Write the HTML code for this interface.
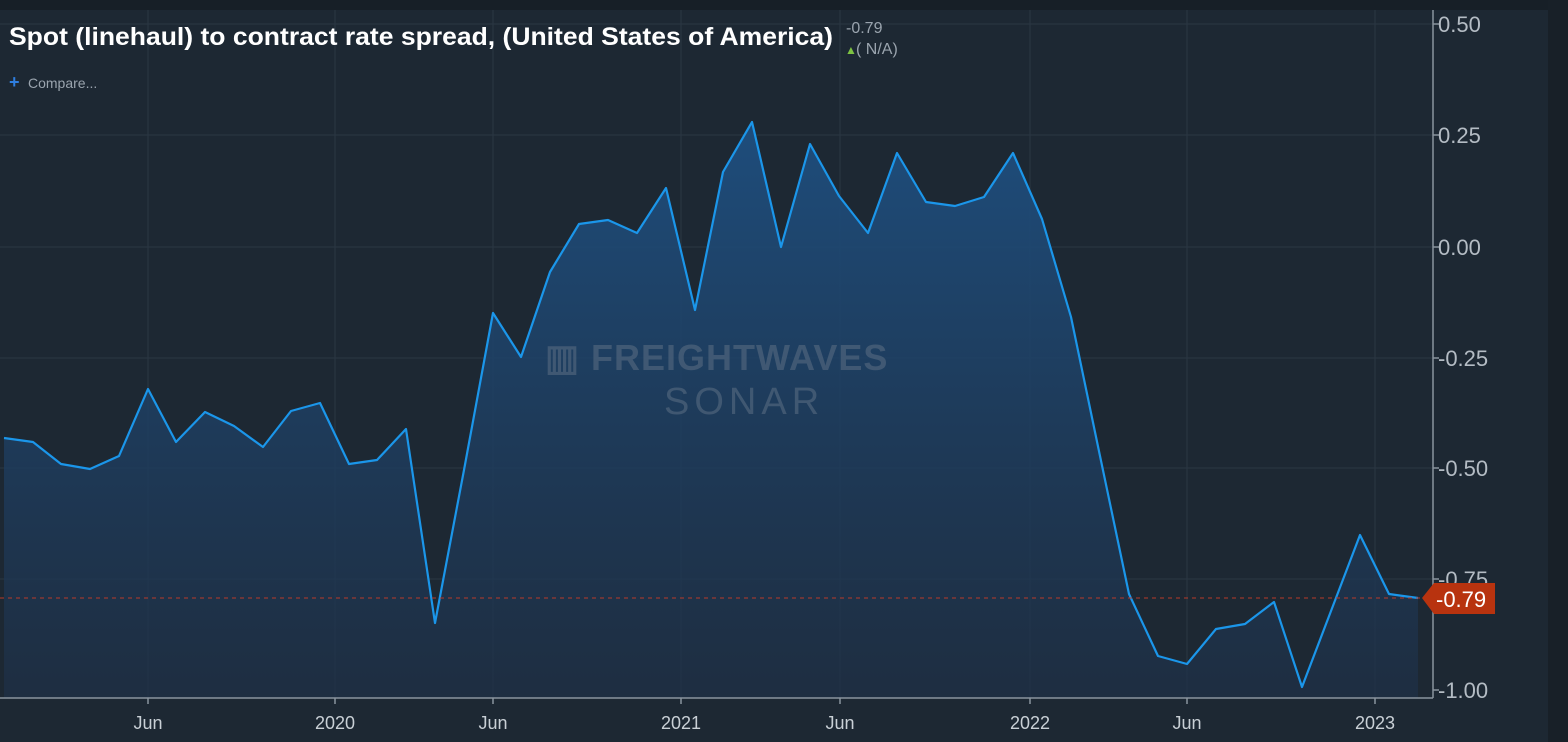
<!DOCTYPE html>
<html><head><meta charset="utf-8"><style>
html,body{margin:0;padding:0;background:#1d2833;}
body{width:1568px;height:742px;overflow:hidden;position:relative;font-family:"Liberation Sans",sans-serif;}
</style></head><body>
<svg width="1568" height="742" xmlns="http://www.w3.org/2000/svg" style="position:absolute;left:0;top:0">
<defs><linearGradient id="g" x1="0" y1="0" x2="0" y2="1">
<stop offset="0" stop-color="#1e4f80" stop-opacity="0.95"/>
<stop offset="1" stop-color="#1e3047" stop-opacity="0.7"/></linearGradient></defs>
<rect x="0" y="0" width="1568" height="742" fill="#1d2833"/>
<rect x="0" y="0" width="1568" height="10" fill="#171f27"/>
<rect x="1548" y="0" width="20" height="742" fill="#182028"/>
<g stroke="#2a3743" stroke-width="1">
<line x1="0" y1="24" x2="1433" y2="24"/><line x1="0" y1="135" x2="1433" y2="135"/><line x1="0" y1="247" x2="1433" y2="247"/><line x1="0" y1="358" x2="1433" y2="358"/><line x1="0" y1="468" x2="1433" y2="468"/><line x1="0" y1="579" x2="1433" y2="579"/>
<line x1="148" y1="10" x2="148" y2="698"/><line x1="335" y1="10" x2="335" y2="698"/><line x1="493" y1="10" x2="493" y2="698"/><line x1="681" y1="10" x2="681" y2="698"/><line x1="840" y1="10" x2="840" y2="698"/><line x1="1030" y1="10" x2="1030" y2="698"/><line x1="1187" y1="10" x2="1187" y2="698"/><line x1="1375" y1="10" x2="1375" y2="698"/>
</g>
<polygon fill="url(#g)" points="4,698 4,438 33,442 61,464 90,469 119,456 148,389 176,442 205,412 234,426 263,447 291,411 320,403 349,464 377,460 406,429 435,623 464,470 493,313 521,357 550,272 579,224 608,220 637,233 666,188 695,310 723,172 752,122 781,247 810,144 839,196 868,233 897,153 926,202 955,206 984,197 1013,153 1042,219 1071,317 1100,456 1129,594 1158,656 1187,664 1216,629 1245,624 1274,602 1302,687 1331,611 1360,535 1389,594 1418,598 1418,698"/>
<polyline fill="none" stroke="#1b96ea" stroke-width="2.2" stroke-linejoin="round" points="4,438 33,442 61,464 90,469 119,456 148,389 176,442 205,412 234,426 263,447 291,411 320,403 349,464 377,460 406,429 435,623 464,470 493,313 521,357 550,272 579,224 608,220 637,233 666,188 695,310 723,172 752,122 781,247 810,144 839,196 868,233 897,153 926,202 955,206 984,197 1013,153 1042,219 1071,317 1100,456 1129,594 1158,656 1187,664 1216,629 1245,624 1274,602 1302,687 1331,611 1360,535 1389,594 1418,598"/>
<line x1="0" y1="598" x2="1425" y2="598" stroke="#b83a2a" stroke-width="1" stroke-dasharray="4,4"/>
<g font-family="Liberation Sans,sans-serif" font-weight="bold" fill="#5c6f84" opacity="0.55">
<text x="545" y="370" font-size="36" letter-spacing="1">▥ FREIGHTWAVES</text>
<text x="664" y="414" font-size="38" font-weight="normal" letter-spacing="5">SONAR</text>
</g>
<line x1="1433" y1="10" x2="1433" y2="698" stroke="#8a949e" stroke-width="1.5"/>
<line x1="0" y1="698" x2="1433" y2="698" stroke="#8a949e" stroke-width="1.5"/>
<g stroke="#8a949e" stroke-width="1.5">
<line x1="1433" y1="24" x2="1439" y2="24"/><line x1="1433" y1="135" x2="1439" y2="135"/><line x1="1433" y1="247" x2="1439" y2="247"/><line x1="1433" y1="358" x2="1439" y2="358"/><line x1="1433" y1="468" x2="1439" y2="468"/><line x1="1433" y1="579" x2="1439" y2="579"/><line x1="1433" y1="690" x2="1439" y2="690"/>
<line x1="148" y1="698" x2="148" y2="704"/><line x1="335" y1="698" x2="335" y2="704"/><line x1="493" y1="698" x2="493" y2="704"/><line x1="681" y1="698" x2="681" y2="704"/><line x1="840" y1="698" x2="840" y2="704"/><line x1="1030" y1="698" x2="1030" y2="704"/><line x1="1187" y1="698" x2="1187" y2="704"/><line x1="1375" y1="698" x2="1375" y2="704"/>
</g>
<g fill="#b4bcc4" font-size="22" font-family="Liberation Sans,sans-serif">
<text x="1438" y="32">0.50</text><text x="1438" y="143">0.25</text><text x="1438" y="255">0.00</text><text x="1438" y="366">-0.25</text><text x="1438" y="476">-0.50</text><text x="1438" y="587">-0.75</text><text x="1438" y="698">-1.00</text>
</g>
<g fill="#c9d0d6" font-size="18" text-anchor="middle" font-family="Liberation Sans,sans-serif">
<text x="148" y="729">Jun</text><text x="335" y="729">2020</text><text x="493" y="729">Jun</text><text x="681" y="729">2021</text><text x="840" y="729">Jun</text><text x="1030" y="729">2022</text><text x="1187" y="729">Jun</text><text x="1375" y="729">2023</text>
</g>
<path d="M1422,598 L1434,583 L1495,583 L1495,614 L1434,614 Z" fill="#b8330f"/>
<text x="1436" y="607" fill="#fff" font-size="22" font-family="Liberation Sans,sans-serif">-0.79</text>
<text x="9" y="45" fill="#fff" font-size="25" font-weight="bold" font-family="Liberation Sans,sans-serif" textLength="824" lengthAdjust="spacingAndGlyphs">Spot (linehaul) to contract rate spread, (United States of America)</text>
<text x="846" y="33" fill="#9aa4ae" font-size="16" font-family="Liberation Sans,sans-serif">-0.79</text>
<text x="845" y="54" fill="#7dc242" font-size="12">▲</text>
<text x="856" y="54" fill="#9aa4ae" font-size="16" font-family="Liberation Sans,sans-serif">( N/A)</text>
<text x="9" y="88" fill="#2f7fe0" font-size="18" font-weight="bold">+</text>
<text x="28" y="88" fill="#9aa4ae" font-size="14" font-family="Liberation Sans,sans-serif">Compare...</text>
</svg>
</body></html>
